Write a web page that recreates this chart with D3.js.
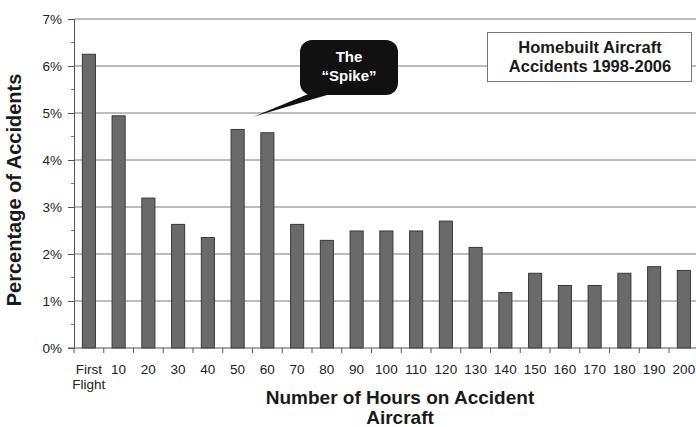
<!DOCTYPE html>
<html>
<head>
<meta charset="utf-8">
<script src="https://cdn.jsdelivr.net/npm/d3@7"></script>
<style>
  html, body { margin: 0; padding: 0; background: #fff; }
  svg { display: block; font-family: "Liberation Sans", Arial, sans-serif; }
</style>
</head>
<body>
<svg id="chart" width="696" height="427"></svg>
<script>
// Hours-on-aircraft buckets and share of accidents in each (percent)
const categories = ["First Flight", "10", "20", "30", "40", "50", "60", "70", "80", "90", "100",
  "110", "120", "130", "140", "150", "160", "170", "180", "190", "200"];
const accidentPct = [6.25, 4.94, 3.19, 2.63, 2.35, 4.65, 4.58, 2.63, 2.29, 2.49, 2.49,
  2.49, 2.70, 2.14, 1.18, 1.59, 1.33, 1.33, 1.59, 1.73, 1.65];
const yTicks = [0, 1, 2, 3, 4, 5, 6, 7];
const yMinorTicks = [0.5, 1.5, 2.5, 3.5, 4.5, 5.5, 6.5];

const svg = d3.select("#chart");

const plot = { left: 74, top: 19, bottom: 348 };
const step = 29.75;
const plotRight = plot.left + step * categories.length;

const x = d3.scaleBand()
  .domain(categories)
  .range([plot.left, plotRight])
  .paddingInner(0.56)
  .paddingOuter(0.28);

const y = d3.scaleLinear()
  .domain([0, 7])
  .range([plot.bottom, plot.top]);

// Horizontal gridlines
svg.append("g")
  .selectAll("line")
  .data(yTicks.filter(d => d > 0))
  .join("line")
  .attr("x1", plot.left).attr("x2", 696)
  .attr("y1", d => y(d)).attr("y2", d => y(d))
  .attr("stroke", "#7a7a7a").attr("stroke-width", 1);

// Bars
svg.append("g")
  .selectAll("rect")
  .data(categories.map((c, i) => ({ c, v: accidentPct[i] })))
  .join("rect")
  .attr("x", d => x(d.c))
  .attr("y", d => y(d.v))
  .attr("width", x.bandwidth())
  .attr("height", d => y(0) - y(d.v))
  .attr("fill", "#6a6a6a")
  .attr("stroke", "#383838")
  .attr("stroke-width", 1);

// Y axis
const yAxis = svg.append("g")
  .attr("transform", `translate(${plot.left},0)`)
  .call(d3.axisLeft(y).tickValues(yTicks).tickFormat(d => d + "%").tickSize(6).tickPadding(6));
yAxis.select(".domain").attr("stroke", "#555");
yAxis.selectAll(".tick line").attr("stroke", "#555");
yAxis.selectAll(".tick text").attr("font-size", 13.5).attr("fill", "#222")
  .attr("font-family", "Liberation Sans, Arial, sans-serif");

svg.append("g")
  .selectAll("line")
  .data(yMinorTicks)
  .join("line")
  .attr("x1", plot.left - 3).attr("x2", plot.left)
  .attr("y1", d => y(d)).attr("y2", d => y(d))
  .attr("stroke", "#777");

// X axis baseline and category separators
svg.append("line")
  .attr("x1", plot.left - 6).attr("x2", 696)
  .attr("y1", plot.bottom).attr("y2", plot.bottom)
  .attr("stroke", "#555");

svg.append("g")
  .selectAll("line")
  .data(d3.range(categories.length + 1))
  .join("line")
  .attr("x1", i => plot.left + i * x.step())
  .attr("x2", i => plot.left + i * x.step())
  .attr("y1", plot.bottom).attr("y2", plot.bottom + 5)
  .attr("stroke", "#555");

// Category labels (first one wraps onto two lines)
const xl = svg.append("g")
  .selectAll("text")
  .data(categories)
  .join("text")
  .attr("x", d => x(d) + x.bandwidth() / 2)
  .attr("y", 374)
  .attr("text-anchor", "middle")
  .attr("font-size", 13.5)
  .attr("fill", "#222");
xl.each(function(d) {
  const words = d.split(" ");
  const t = d3.select(this);
  words.forEach((w, i) => {
    t.append("tspan")
      .attr("x", x(d) + x.bandwidth() / 2)
      .attr("dy", i === 0 ? 0 : 15)
      .text(w);
  });
});

// Axis titles
svg.append("text")
  .attr("transform", "translate(21,190) rotate(-90)")
  .attr("text-anchor", "middle")
  .attr("font-size", 20).attr("font-weight", "bold").attr("fill", "#1a1a1a")
  .text("Percentage of Accidents");

const xt = svg.append("text")
  .attr("text-anchor", "middle")
  .attr("font-size", 19).attr("font-weight", "bold").attr("fill", "#1a1a1a");
xt.append("tspan").attr("x", 400).attr("y", 404).text("Number of Hours on Accident");
xt.append("tspan").attr("x", 400).attr("y", 424).text("Aircraft");

// Title box
svg.append("rect")
  .attr("x", 487.5).attr("y", 32.5).attr("width", 204).attr("height", 49)
  .attr("fill", "#fff").attr("stroke", "#777").attr("stroke-width", 1);
const tt = svg.append("text")
  .attr("text-anchor", "middle")
  .attr("font-size", 16.5).attr("font-weight", "bold").attr("fill", "#1a1a1a");
tt.append("tspan").attr("x", 590).attr("y", 53).text("Homebuilt Aircraft");
tt.append("tspan").attr("x", 590).attr("y", 72).text("Accidents 1998-2006");

// Callout pointing at the 50-hour bar
const tipX = x("50") + x.bandwidth() + 9;
const tipY = y(4.92);
svg.append("path")
  .attr("d", `M318,90 L${tipX},${tipY} L344,90 Z`)
  .attr("fill", "#111");
svg.append("rect")
  .attr("x", 300).attr("y", 40).attr("width", 98).attr("height", 55)
  .attr("rx", 12).attr("ry", 12)
  .attr("fill", "#111");
const ct = svg.append("text")
  .attr("text-anchor", "middle")
  .attr("font-size", 15).attr("font-weight", "bold").attr("fill", "#fff");
ct.append("tspan").attr("x", 349).attr("y", 62).text("The");
ct.append("tspan").attr("x", 349).attr("y", 81).text("\u201CSpike\u201D");
</script>
</body>
</html>
